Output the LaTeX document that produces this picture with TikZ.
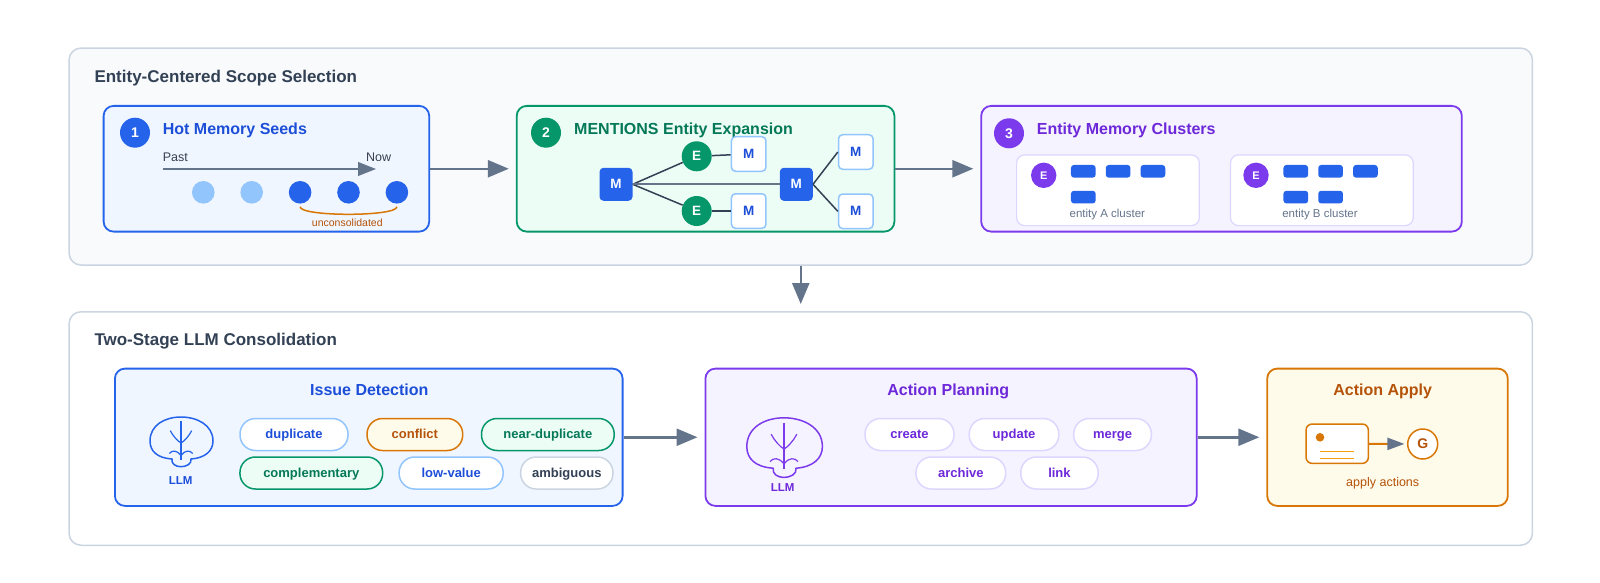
\documentclass[tikz,border=0pt]{standalone}
\usepackage{fontspec}
\setmainfont{Liberation Sans}
\usepackage{xcolor}
\usepackage{tikz}
\usetikzlibrary{arrows.meta,positioning}
\definecolor{slatedark}{HTML}{334155}
\definecolor{slatemid}{HTML}{64748B}
\definecolor{slateline}{HTML}{CBD5E1}
\definecolor{panelbg}{HTML}{F8FAFC}
\definecolor{grayT}{HTML}{374151}
\definecolor{blueA}{HTML}{2563EB}
\definecolor{blueB}{HTML}{1D4ED8}
\definecolor{blueL}{HTML}{93C5FD}
\definecolor{blueF}{HTML}{EFF6FF}
\definecolor{greenA}{HTML}{059669}
\definecolor{greenB}{HTML}{047857}
\definecolor{greenF}{HTML}{ECFDF5}
\definecolor{violetA}{HTML}{7C3AED}
\definecolor{violetB}{HTML}{6D28D9}
\definecolor{violetL}{HTML}{DDD6FE}
\definecolor{violetF}{HTML}{F5F3FF}
\definecolor{amberA}{HTML}{D97706}
\definecolor{amberB}{HTML}{B45309}
\definecolor{amberL}{HTML}{F59E0B}
\definecolor{amberF}{HTML}{FFFBEB}
\newcommand{\pxsize}[1]{\fontsize{#1}{#1}\selectfont}
\tikzset{
  panel/.style={draw=slateline, line width=1.5pt, rounded corners=12pt, anchor=north west},
  stage/.style={line width=1.8pt, rounded corners=10pt},
  bluestage/.style={stage, draw=blueA, fill=blueF},
  greenstage/.style={stage, draw=greenA, fill=greenF},
  violetstage/.style={stage, draw=violetA, fill=violetF},
  amberstage/.style={stage, draw=amberA, fill=amberF},
  heading/.style={anchor=base west, inner sep=0pt, text=slatedark, font=\pxsize{17}\bfseries},
  stagetitle/.style={inner sep=0pt, font=\pxsize{16}\bfseries},
  badge/.style={circle, minimum size=30pt, inner sep=0pt, text=white, font=\pxsize{14}\bfseries},
  memfill/.style={rectangle, rounded corners=4pt, minimum size=33pt, inner sep=0pt, fill=blueA, text=white, font=\pxsize{13.5}\bfseries},
  memopen/.style={memfill, minimum size=34.5pt, fill=white, draw=blueL, line width=1.5pt, text=blueB},
  ent/.style={circle, minimum size=30pt, inner sep=0pt, fill=greenA, text=white, font=\pxsize{13.5}\bfseries},
  link/.style={draw=slatedark, line width=1.5pt},
  dot/.style={circle, minimum size=22.6pt, inner sep=0pt},
  brace/.style={draw=amberA, line width=1.5pt},
  timeline/.style={-{Triangle[length=18pt,width=13.7pt]}, line width=2pt, draw=slatemid},
  group/.style={draw=violetL, fill=white, line width=1.2pt, rounded corners=8pt, anchor=north west},
  clent/.style={circle, minimum size=25.4pt, inner sep=0pt, fill=violetA, text=white, font=\pxsize{11}\bfseries},
  chip/.style={rectangle, rounded corners=3pt, minimum width=24.7pt, minimum height=12.7pt, inner sep=0pt, fill=blueA},
  caption/.style={anchor=base, inner sep=0pt, text=slatemid, font=\pxsize{11.5}},
  small/.style={inner sep=0pt, anchor=base, font=\pxsize{12.5}},
  llmlab/.style={inner sep=0pt, anchor=base, font=\pxsize{11.5}\bfseries},
  pill/.style={rectangle, rounded corners=15.5pt, minimum height=32pt, inner sep=0pt, line width=1.5pt, text height=0.85em, text depth=0pt, font=\pxsize{13}\bfseries},
  pillblue/.style={pill, draw=blueL, fill=white, text=blueB},
  pillamber/.style={pill, draw=amberA, fill=amberF, text=amberB},
  pillgreen/.style={pill, draw=greenA, fill=greenF, text=greenB},
  pillgray/.style={pill, draw=slateline, fill=white, text=slatedark},
  pillviolet/.style={pill, draw=violetL, fill=white, text=violetB},
  card/.style={rectangle, minimum width=62.3pt, minimum height=39.3pt, rounded corners=6pt, draw=amberA, fill=white, line width=1.5pt},
  goal/.style={circle, minimum size=30pt, inner sep=0pt, draw=amberA, fill=white, line width=1.5pt, text=amberB, font=\pxsize{14}\bfseries},
  arrow/.style={-{Triangle[length=21pt,width=17pt]}, line width=2.5pt, draw=slatemid, shorten >=7pt},
  brain/.pic={
    \draw[line width=1.5pt, line join=round] (-9,16) .. controls (-24,15) and (-31,8) .. (-31,-2) .. controls (-31,-18) and (-16,-26) .. (0,-26) .. controls (16,-26) and (32,-18) .. (32,-2) .. controls (32,8) and (24,15) .. (10,16) .. controls (11,21) and (5,23.7) .. (0,23.7) .. controls (-5,23.7) and (-10,21) .. (-9,16) -- cycle;
    \draw[line width=1.2pt] (0,-22) -- (0,17);
    \draw[line width=1.2pt] (-10.7,-12.3) .. controls (-8,-7) and (-3,-1.5) .. (0,0) .. controls (3,-1.5) and (8,-7) .. (10.7,-12.3);
    \draw[line width=1.2pt] (-11.7,10.5) .. controls (-9,7) and (-4,7) .. (0,12.5) .. controls (4,7) and (9,7) .. (11.7,10.5);
  },
}

\begin{document}
\begin{tikzpicture}[x=1pt, y=-1pt]
\useasboundingbox (0,0) rectangle (1600,583);
\fill[white] (0,0) rectangle (1600,583);
\node[panel, fill=panelbg, minimum width=1463.4pt, minimum height=217pt] (scope) at (68.3,47.3) {};
\node[panel, fill=white, minimum width=1463.4pt, minimum height=233.5pt] (consol) at (68.3,311) {};
\node[heading] (scopetitle) at (94.3,82.7) {Entity-Centered Scope Selection};
\node[heading] (consoltitle) at (94.3,345.7) {Two-Stage LLM Consolidation};

% scope selection
\node[bluestage, anchor=north west, minimum width=325.6pt, minimum height=125.7pt] (seeds) at (102.7,105) {};
\node[greenstage, minimum width=377.7pt, minimum height=125.7pt, right=85.7pt of seeds] (expand) {};
\node[violetstage, minimum width=480.6pt, minimum height=125.7pt, right=85pt of expand] (clusters) {};

\node[badge, fill=blueA] (b1) at (135,132.7) {1};
\node[stagetitle, anchor=base west, text=blueB] (seedtitle) at (162.7,134.3) {Hot Memory Seeds};
\node[small, anchor=base west, text=grayT] (past) at (162.7,161.5) {Past};
\node[small, anchor=base west, text=grayT] (nowlab) at (366,161.5) {Now};
\coordinate (tstart) at (162.7,169);
\coordinate (tend) at (376,169);
\draw[timeline] (tstart) -- (tend);
\node[dot, fill=blueL] (d1) at (203.3,192.3) {};
\node[dot, fill=blueL, right=25.4pt of d1] (d2) {};
\node[dot, fill=blueA, right=25.4pt of d2] (d3) {};
\node[dot, fill=blueA, right=25.4pt of d3] (d4) {};
\node[dot, fill=blueA, right=25.4pt of d4] (d5) {};
\draw[brace] ([yshift=-3pt]d3.south) .. controls +(0,10) and +(0,10) .. ([yshift=-3pt]d5.south);
\node[small, font=\pxsize{10.5}, text=amberB] (uncon) at (347.3,226) {unconsolidated};

\node[badge, fill=greenA] (b2) at (546,132.7) {2};
\node[stagetitle, anchor=base west, text=greenB] (exptitle) at (574,134.3) {MENTIONS Entity Expansion};
\node[memfill] (mA) at (616,184.3) {M};
\node[ent] (eA) at (696.7,156.3) {E};
\node[ent] (eB) at (696.7,211) {E};
\node[memopen] (mwA) at (748.7,154) {M};
\node[memopen] (mwB) at (748.7,211) {M};
\node[memfill] (mB) at (796.3,184.3) {M};
\node[memopen] (mwC) at (855.8,152) {M};
\node[memopen] (mwD) at (855.8,211.3) {M};
\draw[link] (mA.east) -- (eA);
\draw[link] (mA.east) -- (eB);
\draw[link, draw=slatemid, line width=1.8pt] (mA.east) -- (mB.west);
\draw[link] (eA) -- (mwA);
\draw[link] (eB) -- (mwB);
\draw[link] (mB.east) -- (mwC.west);
\draw[link] (mB.east) -- (mwD.west);

\node[badge, fill=violetA] (b3) at (1009,133.3) {3};
\node[stagetitle, anchor=base west, text=violetB] (clutitle) at (1036.7,134.3) {Entity Memory Clusters};
\node[group, minimum width=182.7pt, minimum height=70.7pt] (grpA) at (1016,154.3) {};
\node[group, minimum width=182.7pt, minimum height=70.7pt, right=30pt of grpA] (grpB) {};
\node[clent] (entA) at (1043.7,175.3) {E};
\node[chip] (cA1) at (1083.3,171.3) {};
\node[chip, right=9.7pt of cA1] (cA2) {};
\node[chip, right=9.7pt of cA2] (cA3) {};
\node[chip, below=12.7pt of cA1] (cA4) {};
\node[caption] (capA) at (1107.3,217.7) {entity A cluster};
\node[clent] (entB) at (1256,175.3) {E};
\node[chip] (cB1) at (1295.8,171.3) {};
\node[chip, right=9.7pt of cB1] (cB2) {};
\node[chip, right=9.7pt of cB2] (cB3) {};
\node[chip, below=12.7pt of cB1] (cB4) {};
\node[chip, right=9.7pt of cB4] (cB5) {};
\node[caption] (capB) at (1320,217.7) {entity B cluster};

% consolidation
\node[bluestage, anchor=north west, minimum width=507.7pt, minimum height=137.3pt] (detect) at (114,367.7) {};
\node[violetstage, minimum width=491.3pt, minimum height=137.3pt, right=81pt of detect] (plan) {};
\node[amberstage, minimum width=240.6pt, minimum height=137.3pt, right=68.7pt of plan] (apply) {};

\node[stagetitle, anchor=base, text=blueB] (dettitle) at (369.3,395.7) {Issue Detection};
\pic[color=blueA] (llmA) at (181,443) {brain};
\node[llmlab, text=blueB] (llmlabA) at (180.7,484) {LLM};
\node[pillblue, minimum width=108pt] (dup) at (294,434.5) {duplicate};
\node[pillamber, minimum width=95.7pt, right=17.5pt of dup] (conflict) {conflict};
\node[pillgreen, minimum width=132.7pt, right=17.3pt of conflict] (neardup) {near-duplicate};
\node[pillgreen, minimum width=142.7pt] (compl) at (311.3,473) {complementary};
\node[pillblue, minimum width=104pt, right=15pt of compl] (lowval) {low-value};
\node[pillgray, minimum width=92.3pt, right=16pt of lowval] (ambig) {ambiguous};

\node[stagetitle, anchor=base, text=violetB] (plantitle) at (948.3,395.7) {Action Planning};
\pic[color=violetA, scale=1.2] (llmB) at (784,449) {brain};
\node[llmlab, text=violetB] (llmlabB) at (782.7,491) {LLM};
\node[pillviolet, minimum width=89pt] (create) at (909.5,434.5) {create};
\node[pillviolet, minimum width=89.6pt, right=13.7pt of create] (update) {update};
\node[pillviolet, minimum width=77.7pt, right=13.4pt of update] (merge) {merge};
\node[pillviolet, minimum width=89.7pt] (archive) at (960.8,473) {archive};
\node[pillviolet, minimum width=77.4pt, right=13.6pt of archive] (linkact) {link};

\node[stagetitle, anchor=base, text=amberB] (applytitle) at (1382.7,395.7) {Action Apply};
\node[card] (card) at (1337.2,443.7) {};
\node[circle, fill=amberA, minimum size=8.6pt, inner sep=0pt] (carddot) at (1320,437.3) {};
\draw[amberL, line width=1.2pt] (1320,451.3) -- (1354,451.3);
\draw[amberL, line width=1.2pt] (1320,458.3) -- (1354,458.3);
\node[goal] (goal) at (1422.7,444) {G};
\draw[-{Triangle[length=17pt,width=12pt,color=slatemid]}, draw=amberA, line width=2pt, shorten >=2.5pt] (card) -- (goal);
\node[small, text=amberB] (applylab) at (1382.7,486.7) {apply actions};

\draw[arrow] (seeds) -- (expand);
\draw[arrow] (expand) -- (clusters);
\draw[arrow] (scope) -- (consol);
\draw[arrow] (detect) -- (plan);
\draw[arrow] (plan) -- (apply);
\end{tikzpicture}
\end{document}
